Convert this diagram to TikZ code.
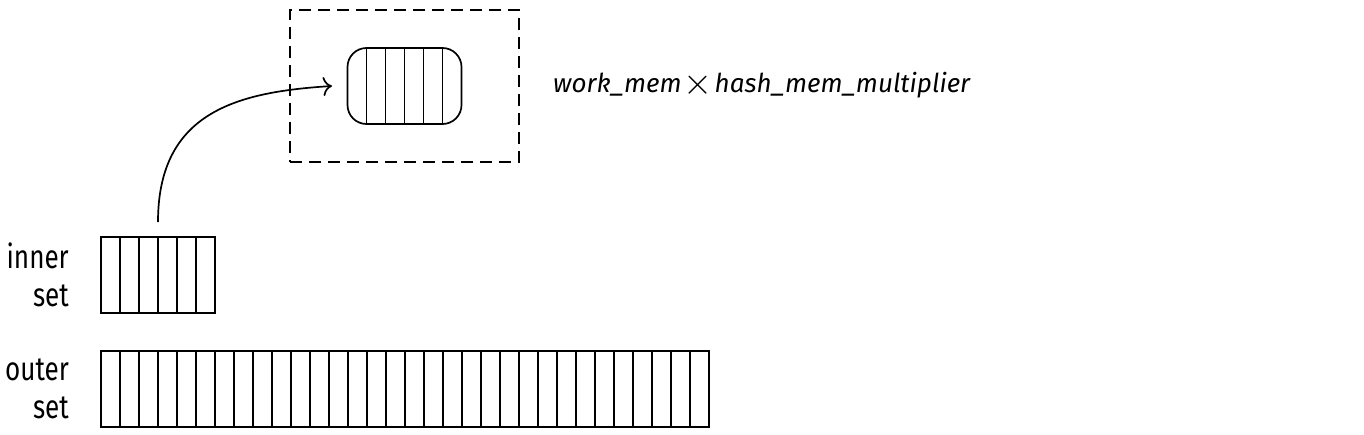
\documentclass[tikz,border=0pt]{standalone}
\usepackage{fontspec}
\setmainfont{Fira Sans}[FakeStretch=0.79]
\newfontfamily\formulafont{Fira Sans}
\usetikzlibrary{arrows.meta,positioning}

\begin{document}
\begin{tikzpicture}[x=1pt, y=-1pt,
  cellrow/.style={draw, line width=1.7pt, minimum width=#1, minimum height=76pt,
                  inner sep=0pt, outer sep=0pt},
  hashrow/.style={cellrow=#1, rounded corners=19pt},
  cell/.style={line width=1.7pt},
  membox/.style={draw, line width=1.7pt, dash pattern=on 12pt off 7pt,
                 minimum width=229pt, minimum height=152pt, outer sep=0pt},
  setlabel/.style={font=\fontsize{33}{38}\selectfont, align=right, inner sep=0pt},
  formula/.style={font=\formulafont\fontsize{26}{30}\selectfont\itshape, inner sep=0pt},
  flow/.style={line width=1.7pt, -{To[length=9pt, width=19pt]}}
]
  \useasboundingbox (0,0) rectangle (1364,434);

  % Memory area with the hash table
  \node[membox] (mem) at (404.5,86) {};
  \node[hashrow=114pt] (hash) at (404.5,86) {};
  \foreach \i in {1,...,5}
    \draw[cell] ([xshift=\i*19pt]hash.north west) -- ([xshift=\i*19pt]hash.south west);
  \node[formula, anchor=base west] (mult) at (553,92)
    {work\_mem\kern2pt\raisebox{-2.5pt}{\scalebox{1.5}{$\times$}}\kern2pt hash\_mem\_multiplier};

  % Sets
  \node[cellrow=114pt] (inner) at (158,275) {};
  \node[cellrow=608pt] (outer) at (405,389) {};
  \foreach \i in {1,...,5}
    \draw[cell] ([xshift=\i*19pt]inner.north west) -- ([xshift=\i*19pt]inner.south west);
  \foreach \i in {1,...,31}
    \draw[cell] ([xshift=\i*19pt]outer.north west) -- ([xshift=\i*19pt]outer.south west);

  % Labels
  \node[setlabel, left=32pt of inner] (innerlbl) {inner\\set};
  \node[setlabel, left=32pt of outer] (outerlbl) {outer\\set};

  % Inner set goes into the hash table
  \coordinate (src) at ([yshift=15pt]inner.north);
  \coordinate (dst) at ([xshift=-15.5pt]hash.west);
  \draw[flow] (src) .. controls +(0,-110) and +(-95,6) .. (dst);
\end{tikzpicture}
\end{document}
